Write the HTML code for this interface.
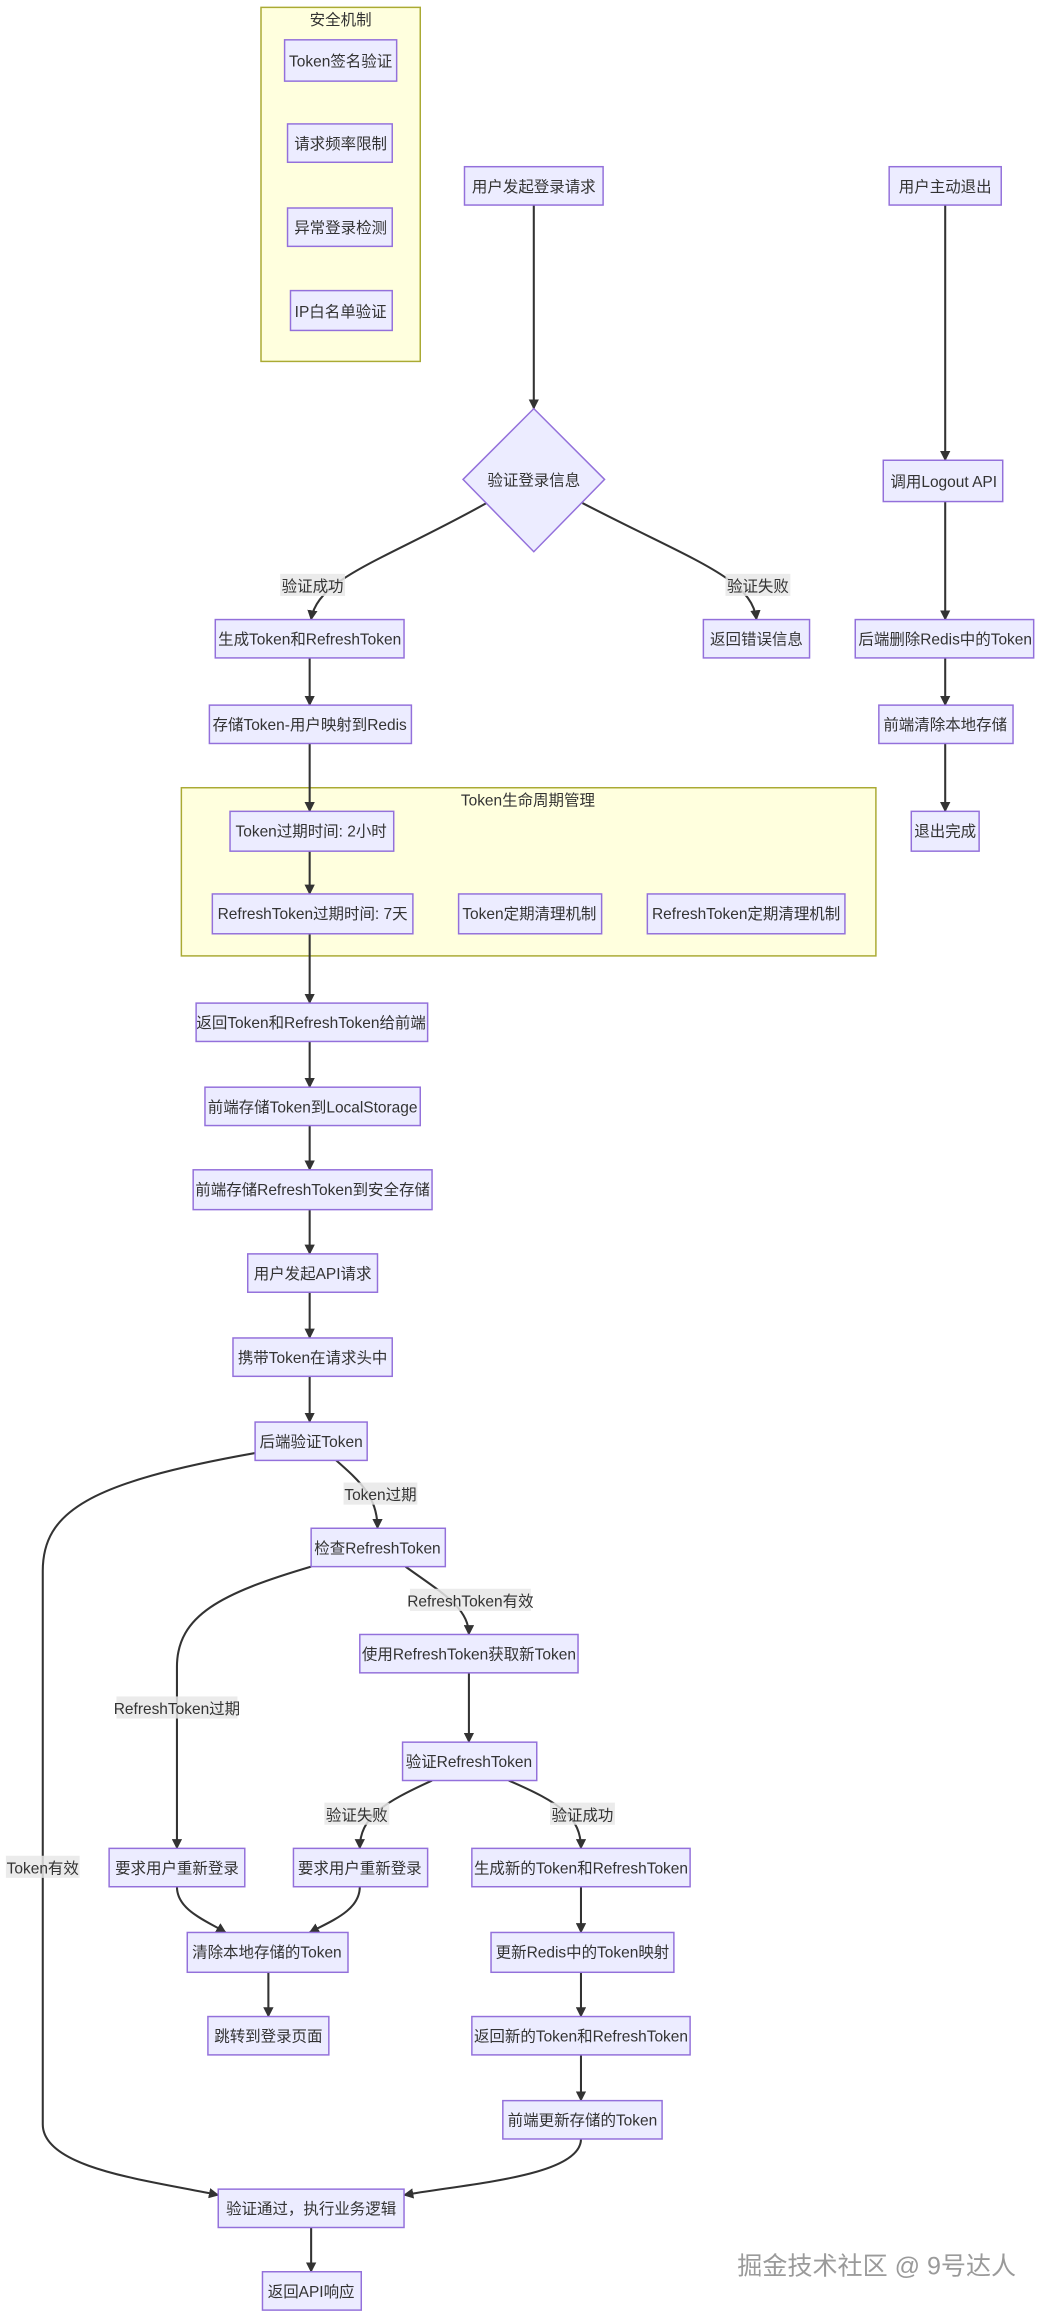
<!DOCTYPE html>
<html><head><meta charset="utf-8"><style>
html,body{margin:0;padding:0;background:#fff;}
svg{display:block;}
text{font-family:"Liberation Sans","Noto Sans CJK SC",sans-serif;font-size:10.5px;fill:#333;}
.n{fill:#ECECFF;stroke:#9370DB;stroke-width:1;}
.g{fill:#FFFFDE;stroke:#AAAA33;stroke-width:1;}
.e{fill:none;stroke:#333;stroke-width:1.4;}
.lb{fill:rgba(232,232,232,0.85);}
</style></head><body>
<svg width="1044" height="2316" viewBox="0 0 708 1570" preserveAspectRatio="none" xmlns="http://www.w3.org/2000/svg">
<defs><marker id="a" viewBox="0 0 10 10" refX="9" refY="5" markerWidth="7" markerHeight="7" orient="auto-start-reverse" markerUnits="userSpaceOnUse"><path d="M0,0 L10,5 L0,10 z" fill="#333"/></marker></defs>

<!-- groups -->
<rect class="g" x="177" y="5" width="108" height="240"/>
<text x="231" y="17" text-anchor="middle">安全机制</text>
<rect class="g" x="123" y="534" width="471" height="114"/>
<text x="358" y="546" text-anchor="middle">Token生命周期管理</text>

<!-- edges -->
<g class="e" marker-end="url(#a)">
<path d="M362,139 L362,277"/>
<path d="M330,341 C260,380 215,392 211,420"/>
<path d="M395,341 C470,380 510,392 513,420"/>
<path d="M210,446 L210,478"/>
<path d="M210,504 L210,550"/>
<path d="M210,577 L210,606"/>
<path d="M210,633 L210,680"/>
<path d="M210,706 L210,737"/>
<path d="M210,763 L210,793"/>
<path d="M210,820 L210,850"/>
<path d="M210,876 L210,907"/>
<path d="M210,933 L210,964"/>
<path d="M641,139 L641,312"/>
<path d="M641,340 L641,420"/>
<path d="M641,446 L641,478"/>
<path d="M641,504 L641,550"/>
<path d="M228,990 C245,1005 256,1015 256,1036"/>
<path d="M173,985 C60,1005 29,1025 29,1065 L29,1440 C29,1470 100,1478 148,1488"/>
<path d="M275,1062 C300,1080 318,1090 318,1108"/>
<path d="M211,1062 C150,1080 120,1095 120,1130 L120,1253"/>
<path d="M318,1134 L318,1181"/>
<path d="M293,1207 C260,1222 244,1232 244,1253"/>
<path d="M345,1207 C380,1222 394,1232 394,1253"/>
<path d="M120,1279 C120,1295 140,1302 153,1310"/>
<path d="M244,1279 C244,1295 225,1302 210,1310"/>
<path d="M182,1337 L182,1367"/>
<path d="M394,1279 L394,1310"/>
<path d="M394,1337 L394,1367"/>
<path d="M394,1393 L394,1424"/>
<path d="M394,1450 C394,1475 320,1480 274,1488"/>
<path d="M211,1510 L211,1540"/>
</g>

<!-- edge labels -->
<g>
<rect class="lb" x="190" y="389" width="44" height="15"/><text x="212" y="401" text-anchor="middle">验证成功</text>
<rect class="lb" x="492" y="389" width="44" height="15"/><text x="514" y="401" text-anchor="middle">验证失败</text>
<rect class="lb" x="233" y="1005" width="50" height="15"/><text x="258" y="1017" text-anchor="middle">Token过期</text>
<rect class="lb" x="278" y="1077" width="82" height="15"/><text x="319" y="1089" text-anchor="middle">RefreshToken有效</text>
<rect class="lb" x="79" y="1150" width="82" height="15"/><text x="120" y="1162" text-anchor="middle">RefreshToken过期</text>
<rect class="lb" x="220" y="1222" width="44" height="15"/><text x="242" y="1234" text-anchor="middle">验证失败</text>
<rect class="lb" x="373" y="1222" width="44" height="15"/><text x="395" y="1234" text-anchor="middle">验证成功</text>
<rect class="lb" x="4" y="1258" width="50" height="15"/><text x="29" y="1270" text-anchor="middle">Token有效</text>
</g>

<!-- nodes -->
<g>
<rect class="n" x="193" y="27" width="76" height="28"/><text x="231" y="45" text-anchor="middle">Token签名验证</text>
<rect class="n" x="195" y="84" width="71" height="26"/><text x="231" y="101" text-anchor="middle">请求频率限制</text>
<rect class="n" x="195" y="141" width="71" height="26"/><text x="231" y="158" text-anchor="middle">异常登录检测</text>
<rect class="n" x="197" y="197" width="69" height="27"/><text x="231" y="215" text-anchor="middle">IP白名单验证</text>

<rect class="n" x="315" y="113" width="94" height="26"/><text x="362" y="130" text-anchor="middle">用户发起登录请求</text>
<polygon class="n" points="362,277 410,325 362,374 314,325"/><text x="362" y="329" text-anchor="middle">验证登录信息</text>
<rect class="n" x="146" y="420" width="128" height="26"/><text x="210" y="437" text-anchor="middle">生成Token和RefreshToken</text>
<rect class="n" x="477" y="420" width="72" height="26"/><text x="513" y="437" text-anchor="middle">返回错误信息</text>
<rect class="n" x="142" y="478" width="137" height="26"/><text x="210" y="495" text-anchor="middle">存储Token-用户映射到Redis</text>

<rect class="n" x="603" y="113" width="76" height="26"/><text x="641" y="130" text-anchor="middle">用户主动退出</text>
<rect class="n" x="599" y="312" width="81" height="28"/><text x="640" y="330" text-anchor="middle">调用Logout API</text>
<rect class="n" x="580" y="420" width="121" height="26"/><text x="641" y="437" text-anchor="middle">后端删除Redis中的Token</text>
<rect class="n" x="596" y="478" width="91" height="26"/><text x="641" y="495" text-anchor="middle">前端清除本地存储</text>
<rect class="n" x="618" y="550" width="46" height="27"/><text x="641" y="567" text-anchor="middle">退出完成</text>

<rect class="n" x="156" y="550" width="111" height="27"/><text x="211" y="567" text-anchor="middle">Token过期时间: 2小时</text>
<rect class="n" x="144" y="606" width="136" height="27"/><text x="212" y="623" text-anchor="middle">RefreshToken过期时间: 7天</text>
<rect class="n" x="311" y="606" width="97" height="27"/><text x="359" y="623" text-anchor="middle">Token定期清理机制</text>
<rect class="n" x="439" y="606" width="134" height="27"/><text x="506" y="623" text-anchor="middle">RefreshToken定期清理机制</text>

<rect class="n" x="133" y="680" width="157" height="26"/><text x="211" y="697" text-anchor="middle">返回Token和RefreshToken给前端</text>
<rect class="n" x="139" y="737" width="146" height="26"/><text x="212" y="754" text-anchor="middle">前端存储Token到LocalStorage</text>
<rect class="n" x="131" y="793" width="162" height="27"/><text x="212" y="810" text-anchor="middle">前端存储RefreshToken到安全存储</text>
<rect class="n" x="168" y="850" width="88" height="26"/><text x="212" y="867" text-anchor="middle">用户发起API请求</text>
<rect class="n" x="158" y="907" width="108" height="26"/><text x="212" y="924" text-anchor="middle">携带Token在请求头中</text>
<rect class="n" x="173" y="964" width="76" height="26"/><text x="211" y="981" text-anchor="middle">后端验证Token</text>
<rect class="n" x="211" y="1036" width="91" height="26"/><text x="256" y="1053" text-anchor="middle">检查RefreshToken</text>
<rect class="n" x="244" y="1108" width="148" height="26"/><text x="318" y="1125" text-anchor="middle">使用RefreshToken获取新Token</text>
<rect class="n" x="273" y="1181" width="91" height="26"/><text x="318" y="1198" text-anchor="middle">验证RefreshToken</text>
<rect class="n" x="74" y="1253" width="92" height="26"/><text x="120" y="1270" text-anchor="middle">要求用户重新登录</text>
<rect class="n" x="199" y="1253" width="91" height="26"/><text x="244" y="1270" text-anchor="middle">要求用户重新登录</text>
<rect class="n" x="320" y="1253" width="148" height="26"/><text x="394" y="1270" text-anchor="middle">生成新的Token和RefreshToken</text>
<rect class="n" x="127" y="1310" width="109" height="27"/><text x="181" y="1327" text-anchor="middle">清除本地存储的Token</text>
<rect class="n" x="333" y="1310" width="124" height="27"/><text x="395" y="1327" text-anchor="middle">更新Redis中的Token映射</text>
<rect class="n" x="141" y="1367" width="82" height="26"/><text x="182" y="1384" text-anchor="middle">跳转到登录页面</text>
<rect class="n" x="320" y="1367" width="148" height="26"/><text x="394" y="1384" text-anchor="middle">返回新的Token和RefreshToken</text>
<rect class="n" x="341" y="1424" width="108" height="26"/><text x="395" y="1441" text-anchor="middle">前端更新存储的Token</text>
<rect class="n" x="148" y="1484" width="126" height="26"/><text x="211" y="1501" text-anchor="middle">验证通过，执行业务逻辑</text>
<rect class="n" x="178" y="1540" width="67" height="26"/><text x="211" y="1557" text-anchor="middle">返回API响应</text>
</g>

<text x="500" y="1542" style="font-size:17px;fill:#9a9a9a;">掘金技术社区 @ 9号达人</text>
</svg>
</body></html>
